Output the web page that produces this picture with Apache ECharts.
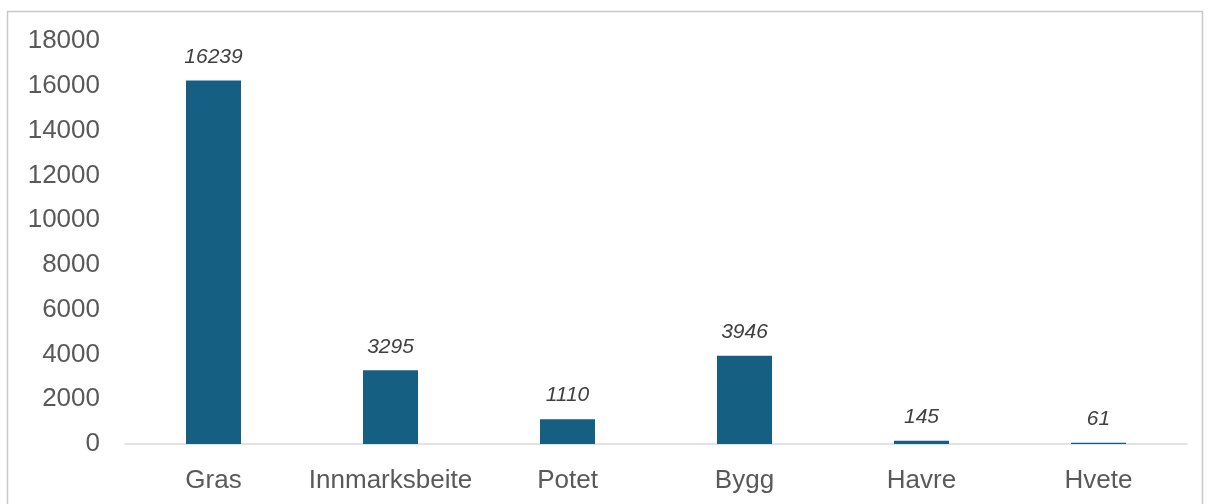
<!DOCTYPE html>
<html>
<head>
<meta charset="utf-8">
<script src="https://cdn.jsdelivr.net/npm/echarts@6/dist/echarts.min.js"></script>
<style>
  html, body { margin: 0; padding: 0; background: #fff; }
  #chart { width: 1213px; height: 504px; }
</style>
</head>
<body>
<div id="chart"></div>
<script>
// crops and areas
var categories = ['Gras', 'Innmarksbeite', 'Potet', 'Bygg', 'Havre', 'Hvete'];
var values = [16239, 3295, 1110, 3946, 145, 61];

var chart = echarts.init(document.getElementById('chart'));
chart.setOption({
    animation: false,
    graphic: [
        {
            type: 'rect',
            shape: {x: 7.5, y: 11.5, width: 1195, height: 500},
            style: {fill: 'none', stroke: '#c8c8c8', lineWidth: 1.5},
            silent: true
        }
    ],
    grid: {left: 125, right: 26, top: 41, bottom: 60, containLabel: false},
    xAxis: {
        type: 'category',
        data: categories,
        axisLine: {lineStyle: {color: '#d9d9d9', width: 1.5}},
        axisTick: {show: false},
        axisLabel: {
            interval: 0,
            color: '#595959',
            fontSize: 26,
            fontFamily: 'Liberation Sans, Arial, sans-serif',
            margin: 24
        }
    },
    yAxis: {
        type: 'value',
        min: 0,
        max: 18000,
        interval: 2000,
        splitLine: {show: false},
        axisLine: {show: false},
        axisTick: {show: false},
        axisLabel: {
            color: '#595959',
            fontSize: 26,
            fontFamily: 'Liberation Sans, Arial, sans-serif',
            margin: 25,
            formatter: function (v) {
                return String(v);
            }
        }
    },
    series: [
        {
            type: 'bar',
            data: values,
            barWidth: 55,
            itemStyle: {color: '#156082'},
            label: {
                show: true,
                position: 'top',
                distance: 13,
                color: '#404040',
                fontSize: 21,
                fontStyle: 'italic',
                fontFamily: 'Liberation Sans, Arial, sans-serif'
            }
        }
    ]
});
</script>
</body>
</html>
